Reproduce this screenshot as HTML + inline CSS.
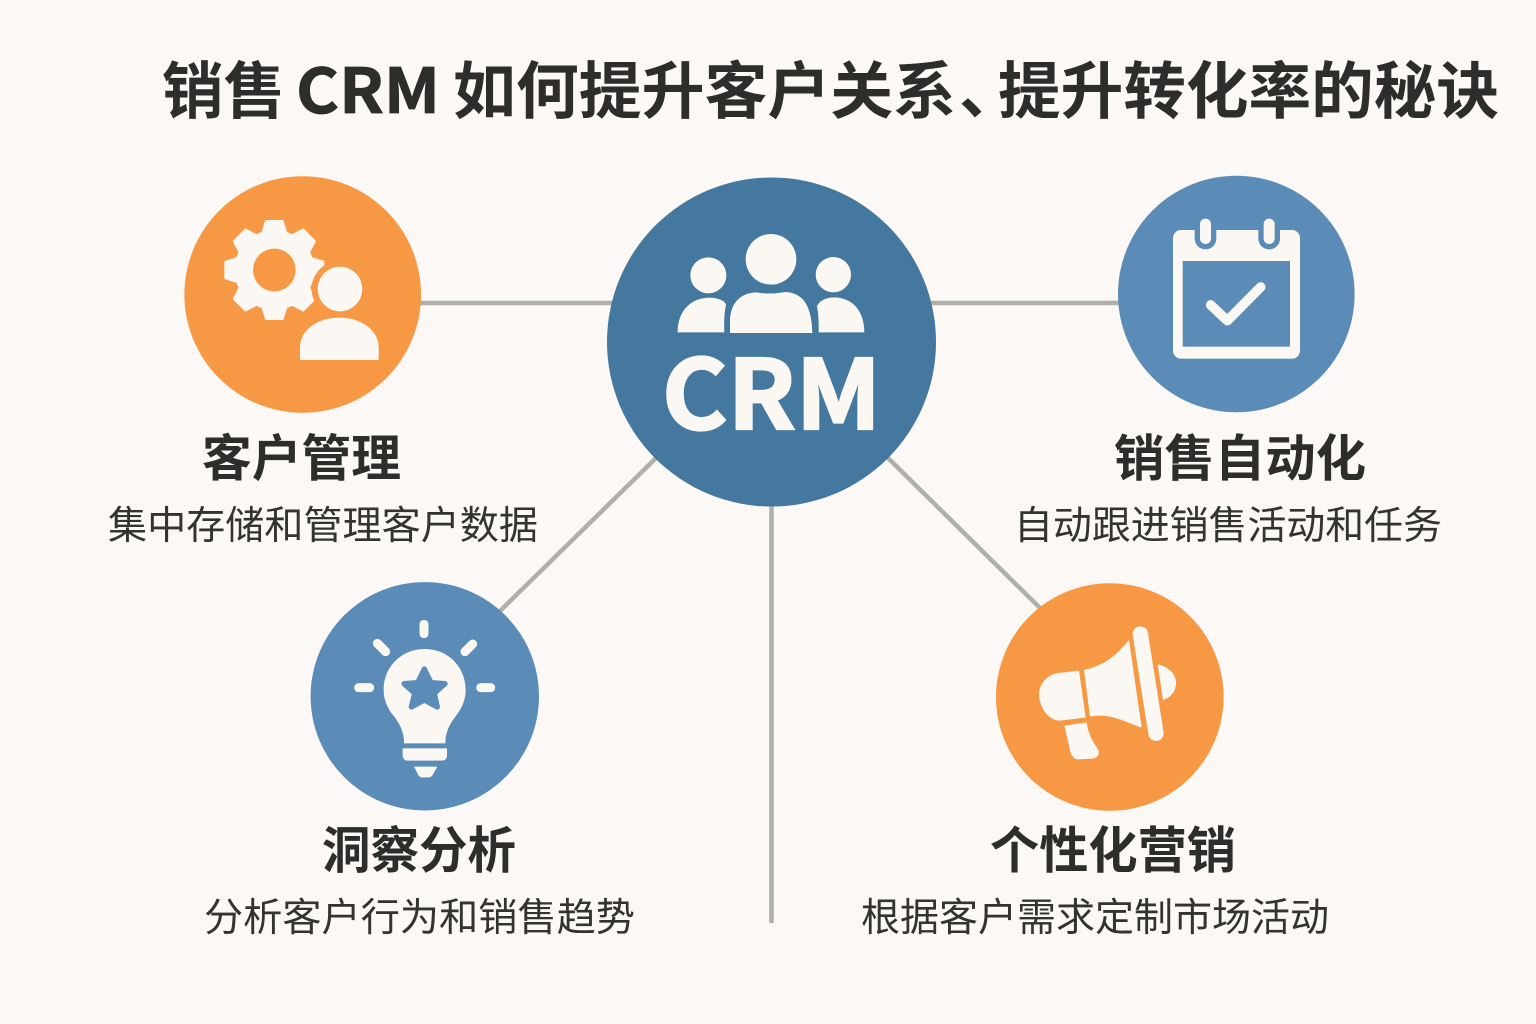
<!DOCTYPE html>
<html lang="zh-CN">
<head>
<meta charset="utf-8">
<title>销售 CRM 如何提升客户关系、提升转化率的秘诀</title>
<style>
html,body{margin:0;padding:0;width:1536px;height:1024px;overflow:hidden;background:#fbf8f5}
svg{display:block}
text{font-family:"Noto Sans CJK SC","Liberation Sans",sans-serif}
.t{font-size:62px;font-weight:700;fill:#2d2d2b}
.h{font-size:50px;font-weight:700;fill:#2d2d2b}
.d{font-size:39px;font-weight:400;fill:#33332f}
</style>
</head>
<body>
<svg width="1536" height="1024" viewBox="0 0 1536 1024" xmlns="http://www.w3.org/2000/svg">
<rect width="1536" height="1024" fill="#fbf8f5"/>

<!-- Connectors -->
<g stroke="#b0b0ab" stroke-width="4.5" fill="none">
<line x1="420" y1="303" x2="615" y2="303"/>
<line x1="928" y1="303" x2="1120" y2="303"/>
<line x1="656" y1="458" x2="500" y2="611"/>
<line x1="888" y1="458" x2="1040" y2="608"/>
<line x1="771.5" y1="500" x2="771.5" y2="923"/>
</g>

<!-- Title -->
<text class="t" x="162" y="113" textLength="123" lengthAdjust="spacingAndGlyphs">销售</text>
<text class="t" x="296" y="113" textLength="144" lengthAdjust="spacingAndGlyphs" stroke="#2d2d2b" stroke-width=".8">CRM</text>
<text class="t" x="453" y="113" textLength="503" lengthAdjust="spacingAndGlyphs">如何提升客户关系</text>
<text class="t" x="959" y="113">、</text>
<text class="t" x="998" y="113" textLength="501" lengthAdjust="spacingAndGlyphs">提升转化率的秘诀</text>

<!-- Circles -->
<circle cx="302.7" cy="294.5" r="118.3" fill="#f79844"/>
<circle cx="771.5" cy="342" r="164.5" fill="#44789f"/>
<circle cx="1236.3" cy="294" r="118.3" fill="#5b8cb8"/>
<circle cx="424.8" cy="696.3" r="114.2" fill="#5b8cb8"/>
<circle cx="1109.8" cy="697" r="113.8" fill="#f79844"/>

<!-- Gear + person -->
<g transform="translate(180 170) scale(.33333)" fill="#fbf8f4">
  <g transform="translate(283 300)">
    <circle r="120"/>
    <g stroke="#fbf8f4" stroke-width="6" stroke-linejoin="round">
    <polygon points="-25,-147 25,-147 38,-105 -38,-105"/>
    <polygon points="-25,-147 25,-147 38,-105 -38,-105" transform="rotate(45)"/>
    <polygon points="-25,-147 25,-147 38,-105 -38,-105" transform="rotate(90)"/>
    <polygon points="-25,-147 25,-147 38,-105 -38,-105" transform="rotate(135)"/>
    <polygon points="-25,-147 25,-147 38,-105 -38,-105" transform="rotate(180)"/>
    <polygon points="-25,-147 25,-147 38,-105 -38,-105" transform="rotate(225)"/>
    <polygon points="-25,-147 25,-147 38,-105 -38,-105" transform="rotate(270)"/>
    <polygon points="-25,-147 25,-147 38,-105 -38,-105" transform="rotate(315)"/>
    </g>
    <circle r="64" fill="#f79844"/>
  </g>
  <circle cx="480" cy="357" r="85" fill="#f79844"/>
  <circle cx="480" cy="357" r="67"/>
  <path d="M360 570V532C360 482 410 443 478 443C545 443 596 482 596 532V570Z"/>
</g>

<!-- CRM people -->
<g transform="translate(600 170) scale(.33333)" fill="#fbf8f4">
  <circle cx="513" cy="268" r="76"/>
  <circle cx="325" cy="316" r="54"/>
  <circle cx="700" cy="314" r="53"/>
  <path d="M390 489V450C392 400 420 368 470 367C500 372 520 372 555 366C605 368 635 400 637 489Z"/>
  <path d="M233 487C233 420 275 383 330 383C355 384 375 392 378 405C372 430 372 460 373 487Z"/>
  <path d="M656 487C657 460 655 430 651 408C660 390 680 382 705 382C760 384 793 425 793 487Z"/>
</g>
<text x="662" y="429" textLength="219" lengthAdjust="spacingAndGlyphs" style="font-size:96px;font-weight:700" fill="#fbf8f4" stroke="#fbf8f4" stroke-width="2.2">CRM</text>

<!-- Calendar -->
<g transform="translate(1110 170) scale(.33333)">
  <rect x="189" y="180" width="381" height="386" rx="24" fill="#fbf8f4"/>
  <rect x="218" y="273" width="322" height="257" fill="#5b8cb8"/>
  <rect x="254" y="130" width="65" height="108" rx="32" fill="#5b8cb8"/>
  <rect x="445" y="130" width="65" height="108" rx="32" fill="#5b8cb8"/>
  <rect x="270" y="146" width="33" height="76" rx="16" fill="#fbf8f4"/>
  <rect x="461" y="146" width="33" height="76" rx="16" fill="#fbf8f4"/>
  <polyline points="302,405 352,452 452,351" fill="none" stroke="#fbf8f4" stroke-width="29" stroke-linecap="round" stroke-linejoin="round"/>
</g>

<!-- Bulb -->
<g transform="translate(300 575) scale(.33333)" fill="#fbf8f4">
  <g stroke="#fbf8f4" stroke-width="27" stroke-linecap="round" fill="none">
    <line x1="372" y1="148" x2="372" y2="176"/>
    <line x1="232" y1="205" x2="257" y2="230"/>
    <line x1="518" y1="207" x2="495" y2="230"/>
    <line x1="176" y1="338" x2="209" y2="338"/>
    <line x1="542" y1="338" x2="572" y2="338"/>
  </g>
  <path d="M312 505C312 470 300 445 275 415C258 392 251 368 251 345C251 275 305 222 374 222C443 222 497 275 497 345C497 375 485 400 470 420C450 445 436 470 436 505Z"/>
  <path d="M308 520H441V540Q441 557 424 557H325Q308 557 308 540Z"/>
  <path d="M342 575H412L398 600Q394 607 385 607H368Q358 607 355 600Z"/>
  <polygon points="373,282 393,323 435,326 403,355 412,396 373,375 334,396 344,355 312,326 353,323" fill="#5b8cb8" stroke="#5b8cb8" stroke-width="16" stroke-linejoin="round"/>
</g>

<!-- Megaphone -->
<g transform="translate(985 575) scale(.33333)" fill="#fbf8f4">
  <line x1="466" y1="177" x2="513" y2="475" stroke="#fbf8f4" stroke-width="46" stroke-linecap="round"/>
  <path d="M432 195L470 458C430 445 390 422 345 422L315 424L297 285C360 270 390 245 432 195Z"/>
  <path d="M282 287L302 428L225 437C190 437 165 400 162 362C160 330 185 298 220 294Z"/>
  <path d="M238 452L305 442C310 480 325 500 340 525C345 540 335 550 320 551L280 553C265 553 258 540 255 525Z"/>
  <path d="M518 268C550 275 573 295 573 325C573 350 555 368 534 375Z"/>
</g>

<!-- Labels -->
<text class="h" x="202" y="476" textLength="199" lengthAdjust="spacingAndGlyphs">客户管理</text>
<text class="d" x="108" y="539" textLength="430" lengthAdjust="spacingAndGlyphs">集中存储和管理客户数据</text>

<text class="h" x="1114" y="476" textLength="252" lengthAdjust="spacingAndGlyphs">销售自动化</text>
<text class="d" x="1014" y="539" textLength="428" lengthAdjust="spacingAndGlyphs">自动跟进销售活动和任务</text>

<text class="h" x="322" y="868" textLength="194" lengthAdjust="spacingAndGlyphs">洞察分析</text>
<text class="d" x="204" y="931" textLength="431" lengthAdjust="spacingAndGlyphs">分析客户行为和销售趋势</text>

<text class="h" x="990" y="868" textLength="246" lengthAdjust="spacingAndGlyphs">个性化营销</text>
<text class="d" x="861" y="931" textLength="468" lengthAdjust="spacingAndGlyphs">根据客户需求定制市场活动</text>
</svg>
</body>
</html>
